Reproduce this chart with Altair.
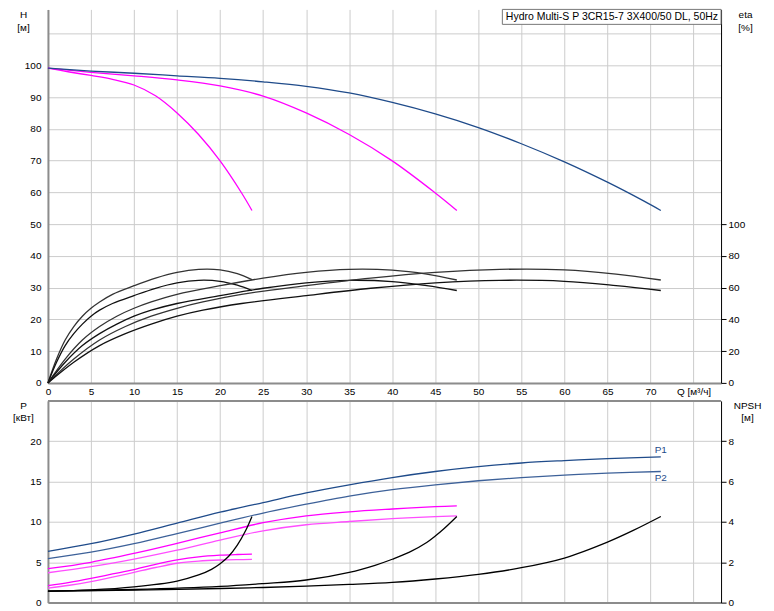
import altair as alt
import pandas as pd

# ---------------- data ----------------
# Head curves H [m] : 1, 2 and 3 pumps
h1_q = [0, 2.5, 5, 7.5, 10, 12.5, 15, 17.5, 20, 22.5, 23.7]
h1_v = [99.1, 97.9, 96.8, 95.6, 93.8, 90.4, 85.0, 78.2, 69.9, 59.8, 54.3]
h2_q = [0, 5, 10, 15, 20, 25, 30, 35, 40, 45, 47.5]
h2_v = [99.1, 97.8, 96.7, 95.4, 93.5, 90.3, 85.0, 78.2, 69.9, 59.8, 54.3]
h3_q = [0, 5, 10, 15, 20, 25, 30, 35, 40, 45, 50, 55, 60, 65, 69.2, 71.2]
h3_v = [99.1, 98.2, 97.5, 96.7, 95.9, 94.8, 93.4, 91.3, 88.3, 84.7, 80.4, 75.3, 69.6, 63.2, 57.3, 54.3]

# Efficiency curves eta [%]
e1_q = [0, 1, 2, 3, 4, 5, 6, 7.5, 10, 12.5, 15, 17.5, 20, 22, 23.7]
e1u_v = [0, 15, 27, 35.5, 42, 47, 51, 55.8, 61.2, 66, 69.6, 71.5, 71.2, 68.8, 65.0]
e1l_v = [0, 13, 23.5, 31, 37, 42, 45.8, 50.0, 55.0, 59.6, 63.0, 64.6, 64.0, 61.5, 58.2]
e2_q = [0, 2, 4, 6, 8, 10, 12, 15, 20, 25, 30, 35, 40, 44, 47.5]
e2u_v = [0, 15, 27, 35.5, 42, 47, 51, 55.8, 61.2, 66, 69.6, 71.5, 71.0, 68.5, 64.8]
e2l_v = [0, 13, 23.5, 31, 37, 42, 45.8, 50.0, 55.0, 59.6, 63.0, 64.6, 63.8, 61.2, 58.2]
e3_q = [0, 3, 6, 9, 12, 15, 18, 22.5, 30, 37.5, 45, 52.5, 60, 66, 71.2]
e3u_v = [0, 15, 27, 35.5, 42, 47, 51, 55.8, 61.2, 66, 69.6, 71.5, 71.2, 68.5, 64.8]
e3l_v = [0, 13, 23.5, 31, 37, 42, 45.8, 50.0, 55.0, 59.6, 63.0, 64.6, 64.0, 61.3, 58.2]

# Power curves P [kW]
p1q = [0, 2.5, 5, 7.5, 10, 12.5, 15, 17.5, 20, 22, 23.7]
p1_1 = [2.1, 2.5, 3.0, 3.55, 4.1, 4.75, 5.3, 5.68, 5.88, 5.96, 6.0]
p2_1 = [1.8, 2.15, 2.6, 3.15, 3.75, 4.35, 4.88, 5.15, 5.28, 5.33, 5.35]
p2q = [0, 5, 10, 15, 20, 25, 30, 35, 40, 45, 47.5]
p1_2 = [4.2, 5.0, 6.1, 7.35, 8.65, 9.9, 10.75, 11.25, 11.6, 11.9, 12.0]
p2_2 = [3.7, 4.45, 5.4, 6.5, 7.75, 8.9, 9.65, 10.05, 10.4, 10.65, 10.75]
p3q = [0, 5, 10, 15, 20, 25, 30, 35, 40, 45, 50, 55, 60, 65, 71.2]
p1_3 = [6.35, 7.3, 8.5, 9.85, 11.2, 12.4, 13.6, 14.6, 15.5, 16.25, 16.85, 17.3, 17.6, 17.85, 18.05]
p2_3 = [5.45, 6.25, 7.3, 8.55, 9.85, 11.1, 12.2, 13.2, 14.0, 14.6, 15.1, 15.5, 15.8, 16.05, 16.25]

# NPSH curves [m]
n1q = [0, 5, 10, 15, 17.5, 19, 20, 21, 22, 23, 23.7]
n1v = [0.57, 0.63, 0.78, 1.07, 1.37, 1.65, 1.93, 2.3, 2.85, 3.6, 4.27]
n2q = [0, 10, 20, 25, 30, 35, 38, 40, 42, 44, 45, 46, 47.5]
n2v = [0.57, 0.65, 0.8, 0.94, 1.12, 1.5, 1.85, 2.15, 2.5, 2.98, 3.3, 3.66, 4.27]
n3q = [0, 10, 20, 25, 30, 35, 40, 45, 50, 55, 60, 65, 68, 71.2]
n3v = [0.57, 0.62, 0.7, 0.75, 0.82, 0.9, 1.0, 1.17, 1.4, 1.73, 2.21, 3.0, 3.58, 4.27]

q_ticks = [0, 5, 10, 15, 20, 25, 30, 35, 40, 45, 50, 55, 60, 65, 70, 75]
h_ticks = [0, 10, 20, 30, 40, 50, 60, 70, 80, 90, 100, 110]
eta_ticks = [0, 20, 40, 60, 80, 100]
p_ticks = [0, 5, 10, 15, 20]
npsh_ticks = [0, 2, 4, 6, 8]
title_text = "Hydro Multi-S P 3CR15-7 3X400/50 DL, 50Hz"
curve_labels = ["P1", "P2"]


def long(parts):
    rows = []
    for name, qs, vs in parts:
        for i, (q, v) in enumerate(zip(qs, vs)):
            rows.append({"Q": q, "v": v, "s": name, "o": i})
    return pd.DataFrame(rows)


h_df = long([("H1", h1_q, h1_v), ("H2", h2_q, h2_v), ("H3", h3_q, h3_v)])
eta_df = long([("e1u", e1_q, e1u_v), ("e1l", e1_q, e1l_v),
               ("e2u", e2_q, e2u_v), ("e2l", e2_q, e2l_v),
               ("e3u", e3_q, e3u_v), ("e3l", e3_q, e3l_v)])
p_df = long([("P1_1", p1q, p1_1), ("P2_1", p1q, p2_1),
             ("P1_2", p2q, p1_2), ("P2_2", p2q, p2_2),
             ("P1_3", p3q, p1_3), ("P2_3", p3q, p2_3)])
n_df = long([("n1", n1q, n1v), ("n2", n2q, n2v), ("n3", n3q, n3v)])
lab1_df = pd.DataFrame({"Q": [p3q[-1]], "v": [p1_3[-1]], "t": [curve_labels[0]]})
lab2_df = pd.DataFrame({"Q": [p3q[-1]], "v": [p2_3[-1]], "t": [curve_labels[1]]})
box_df = pd.DataFrame({"t": [title_text]})

# ---------------- styling ----------------
W = 674
TOP_H = 374
BOT_H = 202
PX_PER_M = 3.18
FONT = "Liberation Sans"
GRID = "#cccccc"
AXIS_GRAY = "#8c8c8c"
NAVY = "#1f4b8a"
NAVY2 = "#3d6199"
MAG = "#ff00ff"
MAG2 = "#ff4dff"

series_style = [
    ("H1", MAG, 1.3), ("H2", MAG, 1.3), ("H3", NAVY, 1.6),
    ("e1u", "#333333", 0.9), ("e1l", "#111111", 1.2),
    ("e2u", "#333333", 0.9), ("e2l", "#111111", 1.2),
    ("e3u", "#333333", 0.9), ("e3l", "#111111", 1.2),
    ("P1_1", MAG, 1.6), ("P2_1", MAG2, 1.0),
    ("P1_2", MAG, 1.6), ("P2_2", MAG2, 1.0),
    ("P1_3", NAVY, 1.5), ("P2_3", NAVY2, 1.0),
    ("n1", "#000000", 1.2), ("n2", "#000000", 1.2), ("n3", "#000000", 1.2),
]
s_dom = [s[0] for s in series_style]
color_enc = alt.Color("s:N", scale=alt.Scale(domain=s_dom, range=[s[1] for s in series_style]), legend=None)
width_enc = alt.StrokeWidth("s:N", scale=alt.Scale(domain=s_dom, range=[s[2] for s in series_style]), legend=None)

xs = alt.Scale(domain=[0, 78.2], nice=False)
x_top = alt.X("Q:Q", scale=xs, axis=alt.Axis(
    values=q_ticks, grid=True, gridColor=GRID, ticks=False, labelPadding=4,
    labelFlush=False, labelOverlap=False, domainColor=AXIS_GRAY, domainWidth=2,
    labelExpr="datum.value == 75 ? 'Q [м³/ч]' : datum.label", title=None))
x_bot = alt.X("Q:Q", scale=xs, axis=alt.Axis(
    values=q_ticks, grid=True, gridColor=GRID, ticks=False, labels=False,
    domainColor=AXIS_GRAY, domainWidth=2, title=None))

INTERP = "catmull-rom"

# ---------------- top panel ----------------
y_h = alt.Y("v:Q", scale=alt.Scale(domain=[0, TOP_H / PX_PER_M], nice=False), axis=alt.Axis(
    values=h_ticks, grid=True, gridColor=GRID, ticks=False, labelPadding=7,
    labelExpr="datum.value <= 100 ? datum.label : ''",
    domainColor=AXIS_GRAY, domainWidth=2,
    title=["H", "[м]"], titleAngle=0, titleX=-25, titleY=0, titleAlign="center",
    titleBaseline="top", titleLineHeight=13))
y_eta = alt.Y("v:Q", scale=alt.Scale(domain=[0, 2 * TOP_H / PX_PER_M], nice=False), axis=alt.Axis(
    orient="right", values=eta_ticks, grid=False, ticks=True, tickSize=5, tickColor="#000",
    domainColor="#000", domainWidth=1, labelPadding=2,
    title=["eta", "[%]"], titleAngle=0, titleX=24, titleY=0, titleAlign="center",
    titleBaseline="top", titleLineHeight=13))

h_lines = alt.Chart(h_df).mark_line(interpolate=INTERP).encode(
    x=x_top, y=y_h, detail="s:N", order="o:Q", color=color_enc, strokeWidth=width_enc)
box = alt.Chart(box_df).mark_rect(fill="white", stroke="#777777", strokeWidth=1).encode(
    x=alt.value(455), x2=alt.value(674), y=alt.value(0), y2=alt.value(15))
box_text = alt.Chart(box_df).mark_text(align="right", baseline="middle", fontSize=10.5, font=FONT, color="#000").encode(
    x=alt.value(671), y=alt.value(7.5), text="t:N")
left_top = alt.layer(h_lines, box, box_text)

eta_lines = alt.Chart(eta_df).mark_line(interpolate=INTERP).encode(
    x=x_top, y=y_eta, detail="s:N", order="o:Q", color=color_enc, strokeWidth=width_enc)

top = alt.layer(left_top, eta_lines).resolve_scale(y="independent").properties(width=W, height=TOP_H)

# ---------------- bottom panel ----------------
ps = alt.Scale(domain=[0, 25], nice=False)
y_p = alt.Y("v:Q", scale=ps, axis=alt.Axis(
    values=p_ticks, grid=True, gridColor=GRID, ticks=False, labelPadding=7,
    domainColor=AXIS_GRAY, domainWidth=2,
    title=["P", "[кВт]"], titleAngle=0, titleX=-25, titleY=0, titleAlign="center",
    titleBaseline="top", titleLineHeight=12))
y_n = alt.Y("v:Q", scale=alt.Scale(domain=[0, 10], nice=False), axis=alt.Axis(
    orient="right", values=npsh_ticks, grid=False, ticks=True, tickSize=5, tickColor="#000",
    domainColor="#000", domainWidth=1, labelPadding=2,
    title=["NPSH", "[м]"], titleAngle=0, titleX=26, titleY=0, titleAlign="center",
    titleBaseline="top", titleLineHeight=12))

p_lines = alt.Chart(p_df).mark_line(interpolate=INTERP).encode(
    x=x_bot, y=y_p, detail="s:N", order="o:Q", color=color_enc, strokeWidth=width_enc)
p1_text = alt.Chart(lab1_df).mark_text(baseline="middle", align="center", fontSize=10, font=FONT,
                                       color=NAVY, dy=-7).encode(x=x_bot, y=y_p, text="t:N")
p2_text = alt.Chart(lab2_df).mark_text(baseline="middle", align="center", fontSize=10, font=FONT,
                                       color=NAVY, dy=7).encode(x=x_bot, y=y_p, text="t:N")
top_rule = alt.Chart(box_df).mark_rule(color=AXIS_GRAY, strokeWidth=2).encode(
    x=alt.value(0), x2=alt.value(W), y=alt.value(0))
left_bot = alt.layer(p_lines, p1_text, p2_text, top_rule)

n_lines = alt.Chart(n_df).mark_line(interpolate=INTERP).encode(
    x=x_bot, y=y_n, detail="s:N", order="o:Q", color=color_enc, strokeWidth=width_enc)

bottom = alt.layer(left_bot, n_lines).resolve_scale(y="independent").properties(width=W, height=BOT_H)

chart = alt.vconcat(top, bottom, spacing=18, bounds="flush").properties(
    padding={"left": 4, "top": 0, "right": 5, "bottom": 0}
).configure(font=FONT).configure_view(stroke=None).configure_axis(
    labelFont=FONT, labelFontSize=10, labelColor="#000", titleFont=FONT, titleFontSize=10,
    titleFontWeight="normal", titleColor="#000"
)

chart.save("out.html", embed_options={"renderer": "svg", "actions": False})
